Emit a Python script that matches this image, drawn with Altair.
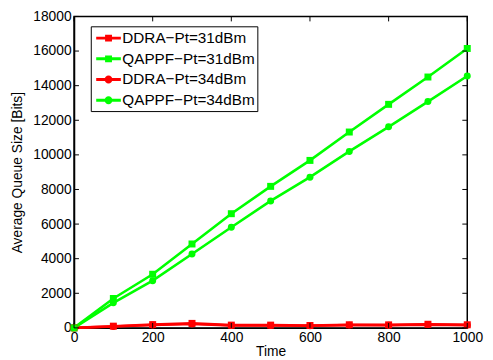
import altair as alt
import pandas as pd

time = [0, 100, 200, 300, 400, 500, 600, 700, 800, 900, 1000]
ddra31 = [0, 100, 190, 260, 160, 160, 140, 180, 175, 210, 180]
qappf31 = [0, 1700, 3100, 4850, 6600, 8180, 9680, 11320, 12920, 14500, 16150]
ddra34 = [0, 80, 170, 230, 140, 140, 120, 160, 155, 190, 160]
qappf34 = [0, 1450, 2730, 4270, 5820, 7340, 8710, 10200, 11620, 13080, 14560]

names = ["DDRA\u2212Pt=31dBm", "QAPPF\u2212Pt=31dBm", "DDRA\u2212Pt=34dBm", "QAPPF\u2212Pt=34dBm"]
series = [ddra31, qappf31, ddra34, qappf34]
colors = ["#ff0000", "#00ff00", "#ff0000", "#00ff00"]
marker_shapes = ["square", "square", "circle", "circle"]

x_ticks = [0, 200, 400, 600, 800, 1000]
y_ticks = [0, 2000, 4000, 6000, 8000, 10000, 12000, 14000, 16000, 18000]

W, H = 399, 316

rows = []
for n, vals in zip(names, series):
    for t, v in zip(time, vals):
        rows.append({"series": n, "label": n, "time": t, "value": v})
df = pd.DataFrame(rows)

sq_path = ("M-1.25,-0.15L1.25,-0.15L1.25,0.15L-1.25,0.15Z "
           "M-0.35,-0.35L0.35,-0.35L0.35,0.35L-0.35,0.35Z")
ci_path = ("M-1.25,-0.15L1.25,-0.15L1.25,0.15L-1.25,0.15Z "
           "M-0.4,0A0.4,0.4 0 1,1 0.4,0A0.4,0.4 0 1,1 -0.4,0Z")
legend_paths = [sq_path, sq_path, ci_path, ci_path]

xs = alt.Scale(domain=[0, 1000], nice=False, zero=False)
ys = alt.Scale(domain=[0, 18000], nice=False, zero=False)
xa = alt.Axis(values=x_ticks, title="Time", format="d")
ya = alt.Axis(values=y_ticks, title="Average Queue Size [Bits]", format="d")

base = alt.Chart(df)

lines = base.mark_line(strokeWidth=2.6).encode(
    x=alt.X("time:Q", scale=xs, axis=xa),
    y=alt.Y("value:Q", scale=ys, axis=ya),
    color=alt.Color("series:N", scale=alt.Scale(domain=names, range=colors), legend=None),
    detail="series:N",
)

points = base.mark_point(filled=True, size=50, opacity=1).encode(
    x=alt.X("time:Q", scale=xs, axis=xa),
    y=alt.Y("value:Q", scale=ys, axis=ya),
    color=alt.Color("series:N", scale=alt.Scale(domain=names, range=colors), legend=None),
    shape=alt.Shape("series:N", scale=alt.Scale(domain=names, range=marker_shapes), legend=None),
)

legend_layer = base.transform_filter("false").mark_point(filled=True, opacity=1).encode(
    x=alt.X("time:Q", scale=xs, axis=xa),
    y=alt.Y("value:Q", scale=ys, axis=ya),
    color=alt.Color("label:N", scale=alt.Scale(domain=names, range=colors),
                    legend=alt.Legend(title=None)),
    shape=alt.Shape("label:N", scale=alt.Scale(domain=names, range=legend_paths),
                    legend=alt.Legend(title=None)),
)

xt = pd.DataFrame({"t": x_ticks})
yt = pd.DataFrame({"t": y_ticks})
tick_style = dict(color="black", strokeWidth=1)
xb = alt.Chart(xt).mark_rule(**tick_style).encode(x=alt.X("t:Q", scale=xs, axis=xa), y=alt.value(H), y2=alt.value(H - 5))
xtp = alt.Chart(xt).mark_rule(**tick_style).encode(x=alt.X("t:Q", scale=xs, axis=xa), y=alt.value(0), y2=alt.value(5))
yl = alt.Chart(yt).mark_rule(**tick_style).encode(y=alt.Y("t:Q", scale=ys, axis=ya), x=alt.value(0), x2=alt.value(5))
yr = alt.Chart(yt).mark_rule(**tick_style).encode(y=alt.Y("t:Q", scale=ys, axis=ya), x=alt.value(W), x2=alt.value(W - 5))

chart = alt.layer(lines, points, legend_layer, xb, xtp, yl, yr).resolve_scale(
    color="independent", shape="independent"
).properties(
    width=W, height=H,
    autosize=alt.AutoSizeParams(type="none"),
    padding={"left": 67, "top": 6, "right": 18, "bottom": 30},
).configure_view(
    stroke="black", strokeWidth=1.5
).configure_axis(
    labelFont="Liberation Sans", labelFontSize=14, labelColor="black",
    titleFont="Liberation Sans", titleFontSize=14, titleFontWeight="normal", titleColor="black",
    domainColor="black", domainWidth=1.5, ticks=False, grid=False, labelPadding=3,
    labelOverlap=False,
).configure_axisX(titlePadding=0, labelFlush=False).configure_axisY(titlePadding=8, labelFlush=False).configure_legend(
    orient="none", legendX=17, legendY=10,
    strokeColor="black", fillColor="white", strokeWidth=1,
    padding=2, symbolSize=400, symbolOffset=6, rowPadding=2, labelOffset=4,
    labelFont="Liberation Sans", labelFontSize=15.5, labelColor="black",
    symbolStrokeWidth=0,
)

chart.save("out.html", embed_options={"renderer": "svg", "actions": False})
